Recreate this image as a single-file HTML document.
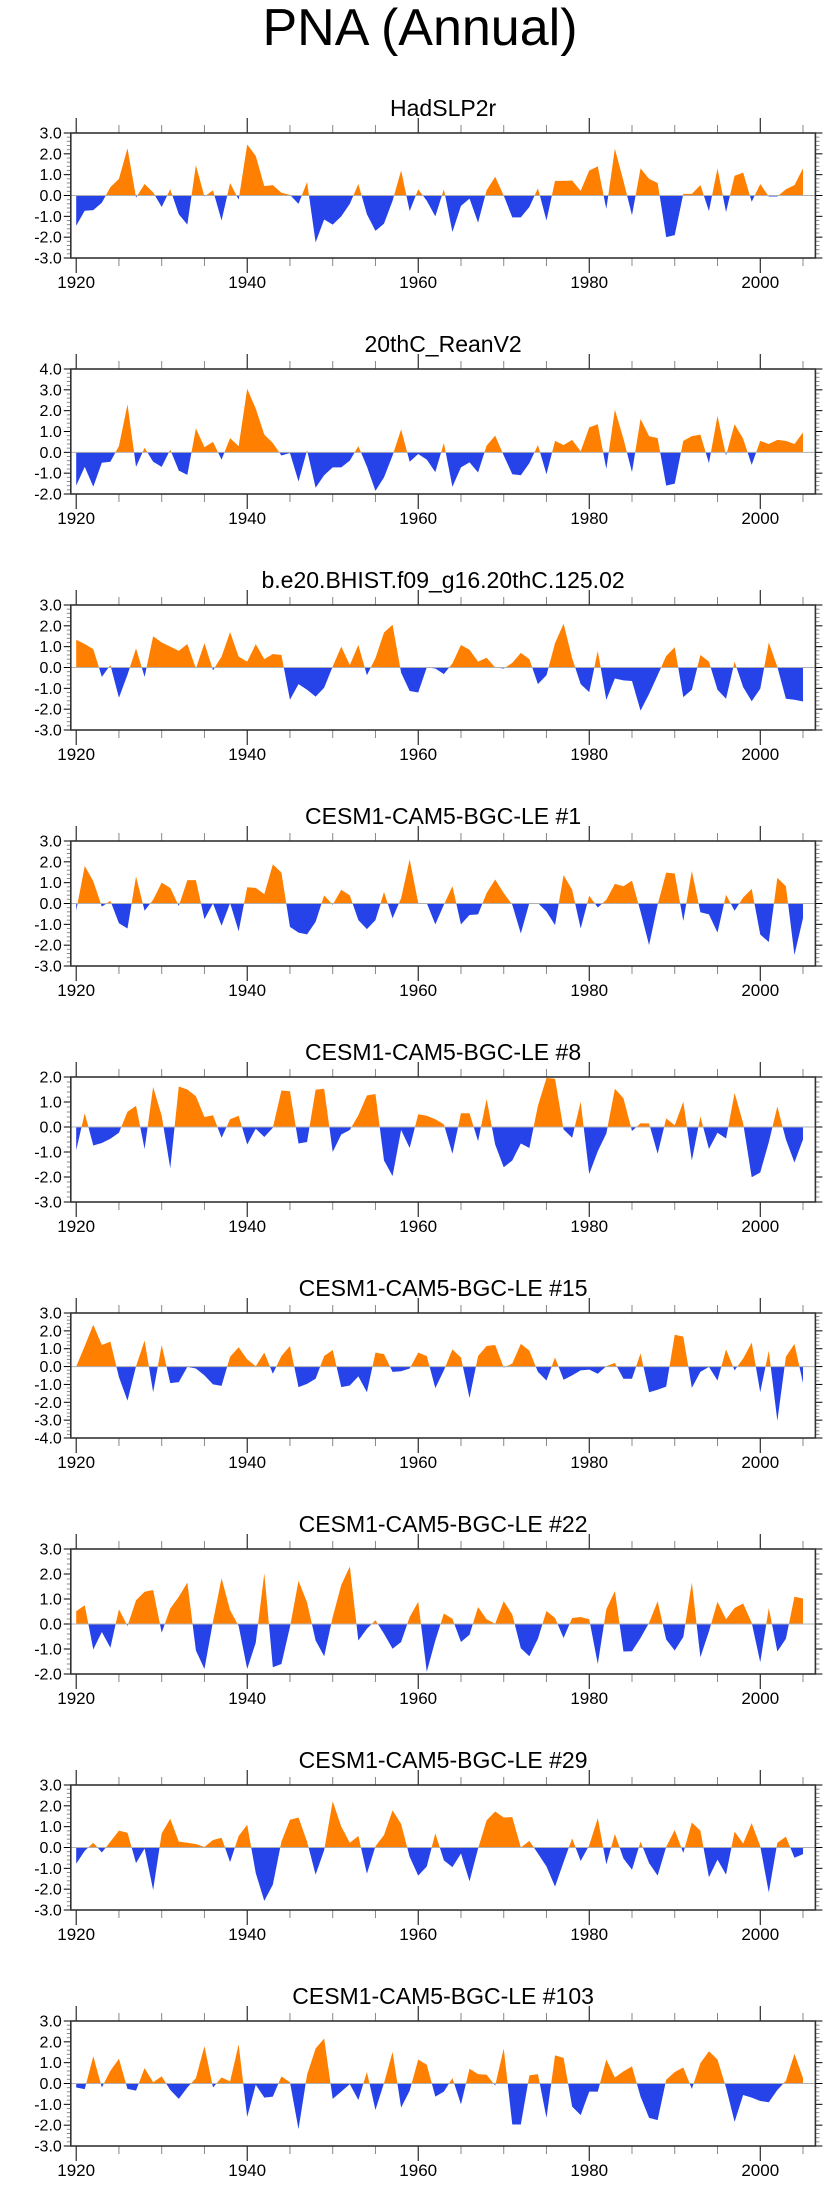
<!DOCTYPE html>
<html><head><meta charset="utf-8"><title>PNA (Annual)</title>
<style>
html,body{margin:0;padding:0;background:#fff;}
svg{display:block;font-family:"Liberation Sans",sans-serif;}
</style></head>
<body>
<svg id="chart" width="840" height="2200" viewBox="0 0 840 2200" xmlns="http://www.w3.org/2000/svg">
<text x="420" y="45" font-size="52" text-anchor="middle" fill="#000">PNA (Annual)</text>
</svg>
<script>
const startYear = 1920;
const titles = ["HadSLP2r","20thC_ReanV2","b.e20.BHIST.f09_g16.20thC.125.02","CESM1-CAM5-BGC-LE #1","CESM1-CAM5-BGC-LE #8","CESM1-CAM5-BGC-LE #15","CESM1-CAM5-BGC-LE #22","CESM1-CAM5-BGC-LE #29","CESM1-CAM5-BGC-LE #103"];
const yMins = [-3,-2,-3,-3,-3,-4,-2,-3,-3];
const yMaxs = [3,4,3,3,2,3,3,3,3];
const xTickYears = [1920,1940,1960,1980,2000];
const s1 = [-1.45,-0.73,-0.7,-0.35,0.4,0.8,2.27,-0.1,0.55,0.15,-0.55,0.3,-0.9,-1.4,1.45,-0.05,0.25,-1.2,0.6,-0.2,2.45,1.9,0.45,0.5,0.13,0.03,-0.4,0.65,-2.25,-1.15,-1.4,-1.0,-0.4,0.55,-0.9,-1.7,-1.35,-0.25,1.2,-0.75,0.3,-0.25,-1.0,0.3,-1.75,-0.5,-0.15,-1.3,0.25,0.9,0,-1.05,-1.05,-0.55,0.35,-1.2,0.7,0.7,0.72,0.22,1.2,1.4,-0.65,2.25,0.7,-0.95,1.3,0.8,0.6,-2.0,-1.9,0.08,0.08,0.5,-0.75,1.3,-0.8,0.95,1.1,-0.3,0.55,-0.05,-0.05,0.3,0.5,1.3];
const s2 = [-1.6,-0.7,-1.65,-0.5,-0.45,0.3,2.3,-0.7,0.22,-0.45,-0.7,0.13,-0.88,-1.08,1.15,0.25,0.5,-0.35,0.68,0.3,3.05,2.1,0.85,0.45,-0.15,-0.03,-1.4,0.1,-1.7,-1.1,-0.72,-0.72,-0.4,0.3,-0.68,-1.85,-1.2,-0.15,1.1,-0.45,-0.08,-0.35,-0.95,0.45,-1.65,-0.72,-0.48,-0.97,0.32,0.8,-0.15,-1.05,-1.1,-0.52,0.35,-1.05,0.55,0.35,0.6,0.05,1.2,1.35,-0.8,2.05,0.65,-0.95,1.6,0.78,0.68,-1.6,-1.5,0.55,0.78,0.85,-0.52,1.75,-0.15,1.35,0.65,-0.6,0.55,0.4,0.6,0.55,0.4,0.95];
const s3 = [1.33,1.13,0.88,-0.45,0.12,-1.45,-0.35,0.92,-0.45,1.5,1.2,1.0,0.8,1.13,-0.05,1.17,-0.13,0.52,1.7,0.52,0.28,1.12,0.4,0.65,0.6,-1.55,-0.8,-1.07,-1.4,-0.97,0.05,1.0,0.12,1.08,-0.37,0.45,1.68,2.05,-0.25,-1.13,-1.2,0,-0.05,-0.32,0.2,1.08,0.85,0.28,0.47,0,-0.05,0.22,0.7,0.4,-0.8,-0.37,1.17,2.1,0.45,-0.8,-1.18,0.8,-1.55,-0.53,-0.62,-0.65,-2.07,-1.27,-0.37,0.55,0.97,-1.42,-1.07,0.6,0.28,-1.07,-1.5,0.28,-0.94,-1.62,-1.02,1.2,0.03,-1.5,-1.55,-1.63];
const s4 = [-0.35,1.8,1.07,-0.15,0.13,-0.95,-1.2,1.3,-0.35,0.18,1.0,0.75,-0.12,1.12,1.12,-0.75,0,-1.07,0.02,-1.33,0.78,0.75,0.45,1.88,1.48,-1.12,-1.4,-1.48,-0.88,0.39,-0.06,0.66,0.39,-0.8,-1.23,-0.8,0.55,-0.71,0.26,2.12,0.03,0.02,-1.0,-0.06,0.83,-1.0,-0.55,-0.52,0.5,1.15,0.5,-0.06,-1.44,0.03,0.02,-0.39,-1.04,1.36,0.66,-1.2,0.37,-0.19,0.18,0.94,0.83,1.1,-0.39,-2.0,-0.06,1.48,1.44,-0.84,1.56,-0.42,-0.52,-1.4,0.42,-0.35,0.29,0.7,-1.49,-1.85,1.23,0.83,-2.47,-0.71];
const s5 = [-0.93,0.55,-0.74,-0.64,-0.47,-0.23,0.61,0.85,-0.88,1.6,0.45,-1.65,1.62,1.5,1.23,0.4,0.47,-0.43,0.31,0.45,-0.7,-0.07,-0.4,-0.03,1.46,1.43,-0.66,-0.6,1.49,1.53,-1.0,-0.3,-0.12,0.47,1.26,1.32,-1.34,-1.96,-0.12,-0.84,0.51,0.45,0.31,0.11,-1.07,0.55,0.55,-0.57,1.12,-0.7,-1.61,-1.34,-0.66,-0.84,0.85,1.96,1.93,-0.1,-0.43,1.01,-1.88,-0.97,-0.26,1.53,1.15,-0.16,0.15,0.14,-1.07,0.34,0.07,1.01,-1.34,0.42,-0.88,-0.23,-0.46,1.36,0.15,-2.01,-1.82,-0.61,0.82,-0.5,-1.42,-0.5];
const s6 = [0,1.15,2.34,1.21,1.4,-0.59,-1.91,0.02,1.46,-1.44,1.21,-0.93,-0.87,-0.02,-0.11,-0.49,-1.0,-1.08,0.55,1.08,0.4,0.02,0.78,-0.4,0.59,1.15,-1.15,-0.97,-0.68,0.59,0.93,-1.15,-1.06,-0.55,-1.44,0.78,0.7,-0.3,-0.26,-0.11,0.78,0.59,-1.21,-0.21,0.96,0.51,-1.76,0.59,1.15,1.21,-0.06,0.17,1.27,0.89,-0.3,-0.78,0.51,-0.74,-0.49,-0.21,-0.17,-0.4,0.02,0.21,-0.68,-0.68,0.74,-1.44,-1.3,-1.12,1.78,1.68,-1.19,-0.3,-0.02,-0.78,0.96,-0.21,0.45,1.34,-1.44,0.89,-3.04,0.55,1.27,-0.93];
const s7 = [0.51,0.75,-1.02,-0.32,-0.95,0.59,-0.08,0.95,1.29,1.36,-0.35,0.62,1.09,1.66,-1.06,-1.8,0.1,1.83,0.55,-0.08,-1.8,-0.75,2.03,-1.73,-1.6,-0.12,1.73,0.86,-0.66,-1.29,0.28,1.56,2.3,-0.66,-0.19,0.15,-0.39,-0.99,-0.72,0.28,0.89,-1.91,-0.66,0.42,0.21,-0.72,-0.43,0.68,0.19,0.01,0.91,0.38,-0.97,-1.29,-0.59,0.52,0.24,-0.56,0.24,0.28,0.19,-1.6,0.59,1.32,-1.1,-1.09,-0.56,0.05,0.91,-0.62,-1.06,-0.52,1.66,-1.33,-0.3,0.89,0.19,0.64,0.82,0.05,-1.53,0.64,-1.1,-0.59,1.09,1.02];
const s8 = [-0.78,-0.16,0.23,-0.24,0.28,0.81,0.71,-0.75,-0.05,-2.04,0.68,1.38,0.28,0.23,0.16,0.03,0.36,0.47,-0.7,0.55,1.09,-1.23,-2.56,-1.78,0.28,1.33,1.44,0.28,-1.3,-0.13,2.22,1.0,0.23,0.55,-1.26,0.06,0.6,1.78,1.13,-0.45,-1.35,-0.91,0.68,-0.62,-0.94,-0.29,-1.62,-0.05,1.3,1.73,1.44,1.46,0,0.32,-0.29,-0.91,-1.88,-0.7,0.44,-0.65,0.11,1.41,-0.81,0.65,-0.53,-1.07,0.28,-0.75,-1.35,0.03,0.84,-0.26,1.2,0.81,-1.43,-0.58,-1.3,0.76,0.19,1.17,0.06,-2.16,0.23,0.52,-0.49,-0.32];
const s9 = [-0.19,-0.27,1.31,-0.19,0.61,1.19,-0.26,-0.34,0.74,0.06,0.34,-0.31,-0.74,-0.19,0.26,1.79,-0.19,0.29,0.1,1.87,-1.6,-0.06,-0.68,-0.63,0.34,0.06,-2.19,0.42,1.68,2.16,-0.74,-0.39,-0.03,-0.79,0.55,-1.27,0.02,1.52,-1.16,-0.35,1.15,0.9,-0.63,-0.39,0.26,-1.0,0.71,0.45,0.42,-0.1,1.68,-1.97,-1.97,0.39,0.45,-1.65,1.35,1.23,-1.11,-1.52,-0.39,-0.39,1.15,0.29,0.58,0.82,-0.63,-1.65,-1.76,0.18,0.55,0.77,-0.26,0.98,1.55,1.15,-0.19,-1.84,-0.55,-0.68,-0.84,-0.9,-0.31,0.13,1.42,0.26];
const seriesList = [s1,s2,s3,s4,s5,s6,s7,s8,s9];

const NS = "http://www.w3.org/2000/svg";
const svg = document.getElementById("chart");
const L = 70.8, R = 815.4, X0 = 1919.37, X1 = 2006.45;
const TOP0 = 133, H = 125, GAP = 236;
function xs(yr){ return L + (yr - X0) / (X1 - X0) * (R - L); }
function mk(tag, attrs){ const e = document.createElementNS(NS, tag); for (const k in attrs) e.setAttribute(k, attrs[k]); return e; }

seriesList.forEach(function(vals, p){
  const top = TOP0 + p * GAP, bot = top + H;
  const ymin = yMins[p], ymax = yMaxs[p];
  const ys = function(v){ return bot - (v - ymin) / (ymax - ymin) * H; };
  const g = mk("g", {});
  
  
  svg.appendChild(g);

  const t = mk("text", {x: (L + R) / 2, y: top - 17, "font-size": 23, "text-anchor": "middle", fill: "#000"});
  
  
  t.textContent = titles[p];
  g.appendChild(t);

  const z = ys(0);
  const cidA = "ca" + p, cidB = "cb" + p;
  const defs = mk("defs", {});
  const cpA = mk("clipPath", {id: cidA}); cpA.appendChild(mk("rect", {x: L, y: top, width: R - L, height: z - top}));
  const cpB = mk("clipPath", {id: cidB}); cpB.appendChild(mk("rect", {x: L, y: z, width: R - L, height: bot - z}));
  defs.appendChild(cpA); defs.appendChild(cpB); g.appendChild(defs);

  let d = "M" + xs(startYear).toFixed(2) + "," + z.toFixed(2);
  vals.forEach(function(v, i){ d += " L" + xs(startYear + i).toFixed(2) + "," + ys(v).toFixed(2); });
  d += " L" + xs(startYear + vals.length - 1).toFixed(2) + "," + z.toFixed(2) + " Z";
  const pos = mk("path", {d: d, fill: "#ff8000", "clip-path": "url(#" + cidA + ")"});
  
  
  const neg = mk("path", {d: d, fill: "#2643ea", "clip-path": "url(#" + cidB + ")"});
  
  
  g.appendChild(pos); g.appendChild(neg);

  const zl = mk("line", {x1: L, x2: R, y1: z, y2: z, stroke: "#b0b0b0", "stroke-width": 1});
  
  
  g.appendChild(zl);

  for (let k = Math.round(ymin * 5); k <= Math.round(ymax * 5); k++) {
    const v = k / 5, yy = ys(v), major = (k % 5 === 0);
    const len = major ? 7 : 4;
    g.appendChild(mk("line", {x1: L - len, x2: L, y1: yy, y2: yy, stroke: major ? "#000" : "#888", "stroke-width": 1}));
    g.appendChild(mk("line", {x1: R, x2: R + len, y1: yy, y2: yy, stroke: major ? "#000" : "#888", "stroke-width": 1}));
    if (major) {
      const lb = mk("text", {x: L - 9, y: yy + 5.5, "font-size": 16, "text-anchor": "end", fill: "#000"});
      
      
      lb.textContent = v.toFixed(1);
      g.appendChild(lb);
    }
  }
  for (let yr = 1920; yr <= 2005; yr += 5) {
    const xx = xs(yr), major = (yr % 20 === 0);
    const len = major ? 15 : 8;
    g.appendChild(mk("line", {x1: xx, x2: xx, y1: bot, y2: bot + len, stroke: major ? "#000" : "#888", "stroke-width": 1}));
    g.appendChild(mk("line", {x1: xx, x2: xx, y1: top - len, y2: top, stroke: major ? "#000" : "#888", "stroke-width": 1}));
  }
  xTickYears.forEach(function(yr){
    const lb = mk("text", {x: xs(yr), y: bot + 30, "font-size": 17, "text-anchor": "middle", fill: "#000"});
    
    
    lb.textContent = yr;
    g.appendChild(lb);
  });
  const box = mk("rect", {x: L, y: top, width: R - L, height: H, fill: "none", stroke: "#333", "stroke-width": 1.6});
  
  
  g.appendChild(box);
});
</script>
</body></html>
